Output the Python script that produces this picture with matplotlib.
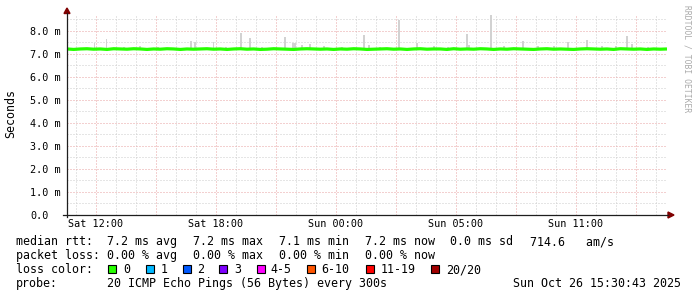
import matplotlib
matplotlib.use("Agg")
import matplotlib.pyplot as plt
import numpy as np
from matplotlib.lines import Line2D
from matplotlib.patches import Polygon, Rectangle

# ---------------- data ----------------
# time axis: hours since Sat 00:00 (real elapsed time)
t_start = 10.55
t_end = 40.55
x_tick_pos = [12, 18, 24, 30, 36]
x_tick_labels = ["Sat 12:00", "Sat 18:00", "Sun 00:00", "Sun 05:00", "Sun 11:00"]
y_tick_pos = [0, 1, 2, 3, 4, 5, 6, 7, 8]
y_tick_labels = ["0.0", "1.0 m", "2.0 m", "3.0 m", "4.0 m", "5.0 m", "6.0 m", "7.0 m", "8.0 m"]

# median RTT (ms), one value every 20 minutes starting at t_start
median_rtt = [7.21, 7.19, 7.21, 7.22, 7.20, 7.21, 7.19, 7.22, 7.21, 7.20,
              7.22, 7.21, 7.19, 7.21, 7.20, 7.22, 7.21, 7.19, 7.21, 7.20,
              7.21, 7.22, 7.20, 7.21, 7.19, 7.21, 7.22, 7.20, 7.21, 7.19,
              7.20, 7.22, 7.21, 7.20, 7.19, 7.21, 7.22, 7.21, 7.20, 7.21,
              7.19, 7.21, 7.20, 7.22, 7.21, 7.19, 7.20, 7.21, 7.22, 7.20,
              7.21, 7.19, 7.21, 7.22, 7.20, 7.21, 7.21, 7.19, 7.22, 7.20,
              7.21, 7.20, 7.22, 7.21, 7.19, 7.21, 7.20, 7.22, 7.21, 7.20,
              7.19, 7.21, 7.22, 7.20, 7.21, 7.20, 7.19, 7.21, 7.22, 7.21,
              7.20, 7.21, 7.19, 7.22, 7.21, 7.20, 7.21, 7.19, 7.21, 7.20, 7.21]

# smoke (spread of the 20 pings): time (h), top (ms)
smoke_t = [10.57, 11.93, 12.53, 13.4, 14.2, 15.1, 16.74, 16.95, 17.88, 18.5,
           19.24, 19.70, 20.3, 21.45, 21.85, 21.95, 22.3, 22.7, 23.4, 24.3,
           25.4, 25.64, 26.2, 27.14, 28.04, 28.9, 29.6, 30.54, 30.65, 31.74,
           32.4, 33.35, 34.1, 34.9, 35.6, 36.54, 37.3, 38.0, 38.54, 38.79, 39.6]
smoke_top = [7.65, 7.48, 7.65, 7.30, 7.32, 7.30, 7.56, 7.53, 7.53, 7.31,
             7.90, 7.70, 7.30, 7.73, 7.48, 7.48, 7.40, 7.42, 7.32, 7.30,
             7.80, 7.38, 7.31, 8.48, 7.47, 7.32, 7.30, 7.85, 7.40, 8.70,
             7.33, 7.56, 7.35, 7.32, 7.50, 7.58, 7.33, 7.35, 7.78, 7.43, 7.31]
smoke_low = 7.17

legend_rows = [
    ("median rtt:", ["7.2 ms avg", "7.2 ms max", "7.1 ms min", "7.2 ms now", "0.0 ms sd", "714.6   am/s"]),
    ("packet loss:", ["0.00 % avg", "0.00 % max", "0.00 % min", "0.00 % now"]),
]
loss_labels = ["0", "1", "2", "3", "4-5", "6-10", "11-19", "20/20"]
loss_colors = ["#26ff00", "#00b8ff", "#0059ff", "#7e00ff", "#ff00ff", "#ff5500", "#ff0000", "#a10000"]
probe_text = "20 ICMP Echo Pings (56 Bytes) every 300s"
stamp_text = "Sun Oct 26 15:30:43 2025"

# ---------------- layout ----------------
W, H = 697, 297
fig = plt.figure(figsize=(W / 100, H / 100), dpi=100)
fig.patch.set_facecolor("white")

px0, px1 = 67, 667
py_bot, py_top = 215, 13.5
ax = fig.add_axes([px0 / W, (H - py_bot) / H, (px1 - px0) / W, (py_bot - py_top) / H])
ax.set_xlim(t_start, t_end)
ax.set_ylim(0, 8.75)
for s in ax.spines.values():
    s.set_visible(False)

mono = "DejaVu Sans Mono"
grid_minor = "#cdcdcd"
grid_major = "#e8a3a3"

# grid
for h in np.arange(11, 41, 1):
    c = grid_major if h % 3 == 0 else grid_minor
    ax.axvline(h, color=c, lw=0.72, dashes=(1, 2), zorder=1)
for v in np.arange(0.5, 8.75, 0.5):
    c = grid_major if abs(v - round(v)) < 1e-6 else grid_minor
    ax.axhline(v, color=c, lw=0.72, dashes=(1, 2), zorder=1)

# smoke
step = 1.0 / 12
ax.bar(smoke_t, [tp - smoke_low for tp in smoke_top], bottom=smoke_low, width=step,
       color="#d2d2d2", linewidth=0, zorder=2)

# median line
t_med = t_start + np.arange(len(median_rtt)) / 3.0
ax.plot(t_med, median_rtt, color="#26ff00", lw=2.3, zorder=3, solid_capstyle="butt")

# ticks
ax.set_xticks(x_tick_pos)
ax.set_xticklabels(x_tick_labels, fontsize=7.3, family=mono)
ax.set_yticks(y_tick_pos)
ax.set_yticklabels(y_tick_labels, fontsize=7.3, family=mono, ha="left")
ax.tick_params(axis="x", length=0, pad=3.0)
ax.tick_params(axis="y", length=0, pad=37 * 0.72)

fig.text(10.5 / W, 1 - 114 / H, "Seconds", rotation=90, ha="center", va="center",
         fontsize=8.4, family=mono)

# axes lines & arrows
axis_col = "#1e1e1e"
arrow_col = "#7f0000"
fig.add_artist(Line2D([px0 / W, px0 / W], [1 - 217 / H, 1 - 13 / H], color=axis_col, lw=0.9))
fig.add_artist(Line2D([63 / W, 668 / W], [1 - 215 / H, 1 - 215 / H], color=axis_col, lw=0.9))
fig.add_artist(Polygon([[(px0 - 3) / W, 1 - 13.5 / H], [(px0 + 3) / W, 1 - 13.5 / H], [px0 / W, 1 - 8 / H]],
                       closed=True, color=arrow_col, transform=fig.transFigure))
fig.add_artist(Polygon([[668 / W, 1 - 212 / H], [668 / W, 1 - 218 / H], [674 / W, 1 - 215 / H]],
                       closed=True, color=arrow_col, transform=fig.transFigure))

# watermark
fig.text(687 / W, 1 - 5 / H, "RRDTOOL / TOBI OETIKER", rotation=270, ha="center", va="top",
         fontsize=5.8, family=mono, color="#aaaaaa")

# legend
fs = 8.4
item_x = [107.3, 193.5, 279.3, 365, 450, 530]
baselines = [245.3, 259.3, 273.3, 287.3]
for (head, items), yb in zip(legend_rows, baselines[:2]):
    fig.text(16 / W, 1 - yb / H, head, fontsize=fs, family=mono, va="baseline")
    for it, xx in zip(items, item_x):
        fig.text(xx / W, 1 - yb / H, it, fontsize=fs, family=mono, va="baseline")

fig.text(16 / W, 1 - baselines[2] / H, "loss color:", fontsize=fs, family=mono, va="baseline")
box_x = [108.3, 145.7, 182.7, 219.3, 256.7, 306.7, 366, 430.7]
lab_x = [123.3, 160.7, 197.3, 234.3, 270.7, 321.7, 380.7, 446]
for lab, col, bx, lx in zip(loss_labels, loss_colors, box_x, lab_x):
    fig.add_artist(Rectangle((bx / W, 1 - 273 / H), 8 / W, 8 / H, facecolor=col,
                             edgecolor="black", lw=0.8, transform=fig.transFigure))
    fig.text(lx / W, 1 - baselines[2] / H, lab, fontsize=fs, family=mono, va="baseline")

fig.text(16 / W, 1 - baselines[3] / H, "probe:", fontsize=fs, family=mono, va="baseline")
fig.text(107.3 / W, 1 - baselines[3] / H, probe_text, fontsize=fs, family=mono, va="baseline")
fig.text(513.3 / W, 1 - baselines[3] / H, stamp_text, fontsize=fs, family=mono, va="baseline")

fig.savefig("out.png", dpi=100, facecolor="white")
